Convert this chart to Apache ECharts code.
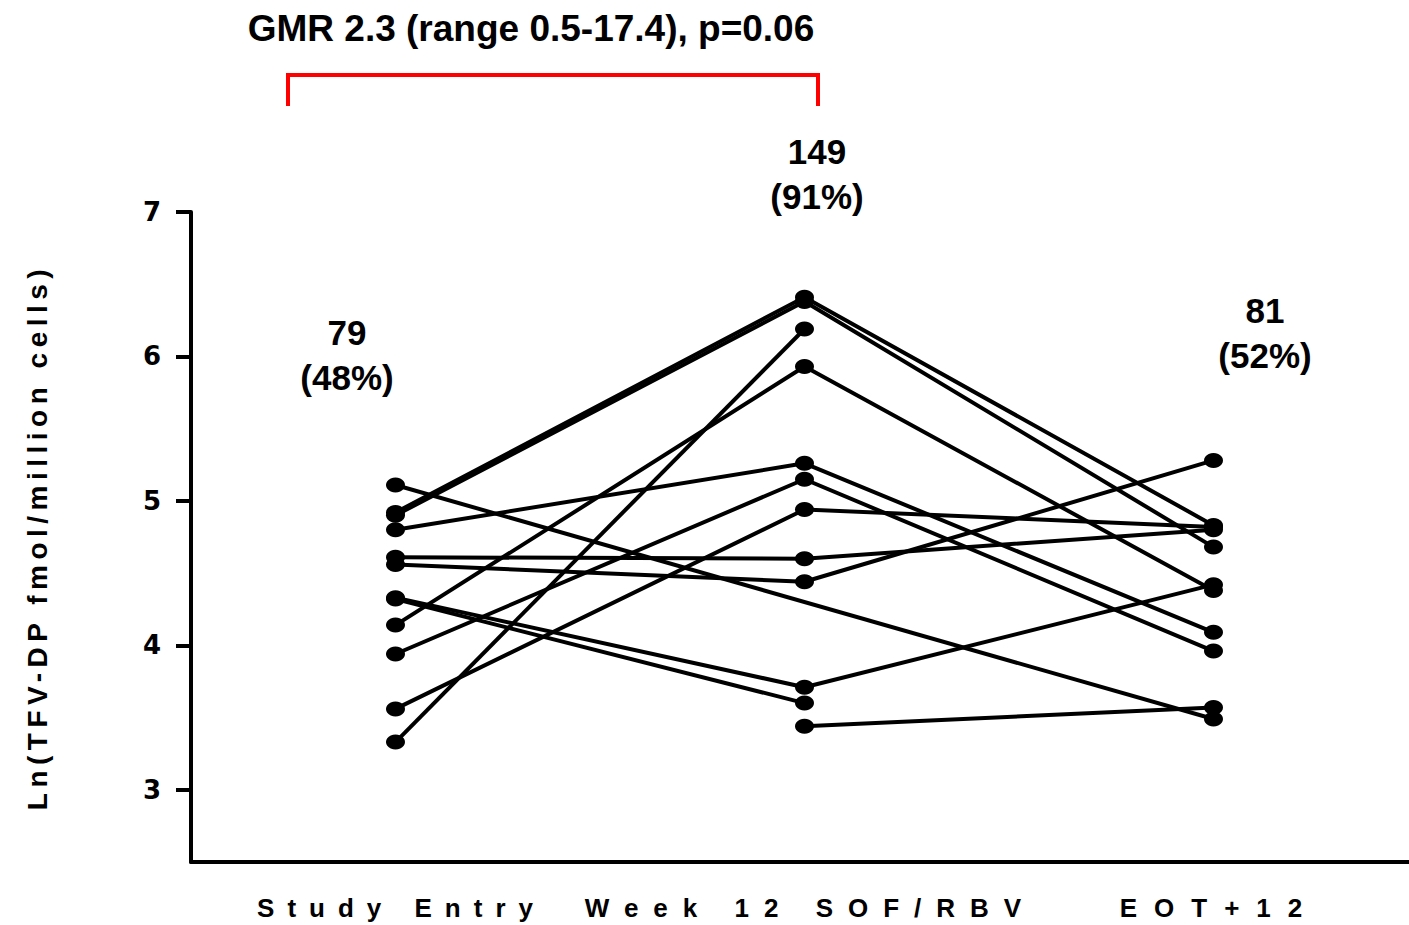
<!DOCTYPE html>
<html>
<head>
<meta charset="utf-8">
<script src="https://cdn.jsdelivr.net/npm/echarts@6/dist/echarts.min.js"></script>
<style>
  html, body { margin: 0; padding: 0; background: #fff; }
  #chart { width: 1409px; height: 925px; }
</style>
</head>
<body>
<div id="chart"></div>
<script>
// Time points on the x axis
const categories = ['Study Entry', 'Week 12 SOF/RBV', 'EOT+12'];

// Ln(TFV-DP) per participant at each time point (null = not measured)
const s01 = [4.92, 6.41, 4.83];
const s02 = [4.90, 6.38, 4.68];
const s03 = [3.33, 6.19, null];
const s04 = [4.14, 5.93, 4.38];
const s05 = [4.80, 5.26, 4.09];
const s06 = [3.94, 5.15, 3.96];
const s07 = [3.56, 4.94, 4.82];
const s08 = [4.61, 4.60, 4.80];
const s09 = [4.56, 4.44, 5.28];
const s10 = [4.33, 3.71, 4.42];
const s11 = [4.32, 3.60, null];
const s12 = [5.11, null, 3.49];
const s13 = [null, 3.44, 3.57];
const participants = [s01, s02, s03, s04, s05, s06, s07, s08, s09, s10, s11, s12, s13];

// Y axis ticks
const yTicks = [3, 4, 5, 6, 7];

// Geometric mean labels per time point
const gmLabels = ['79\n(48%)', '149\n(91%)', '81\n(52%)'];
const comparisonText = 'GMR 2.3 (range 0.5-17.4), p=0.06';

const BOLD = 'Liberation Sans, Arial, sans-serif';

const chart = echarts.init(document.getElementById('chart'), null, { renderer: 'svg' });

const series = participants.map(vals => ({
  type: 'line',
  data: vals,
  connectNulls: true,
  symbol: 'circle',
  symbolSize: [19, 15],
  showSymbol: true,
  lineStyle: { color: '#000', width: 4 },
  itemStyle: { color: '#000' },
  emphasis: { disabled: true },
  animation: false
}));

const labelText = (text, x, y) => ({
  type: 'text',
  x: x, y: y,
  style: {
    text: text,
    font: 'bold 35px ' + BOLD,
    fill: '#000',
    align: 'center',
    verticalAlign: 'middle',
    lineHeight: 45
  }
});

chart.setOption({
  animation: false,
  backgroundColor: '#fff',
  grid: { left: 191, top: 212, width: 1227, height: 650, containLabel: false, outerBoundsMode: 'none' },
  xAxis: {
    type: 'category',
    data: categories,
    boundaryGap: true,
    axisLine: { lineStyle: { color: '#000', width: 4 } },
    axisTick: { alignWithLabel: true, length: 13, lineStyle: { color: '#000', width: 3.5 } },
    axisLabel: {
      color: '#000', fontFamily: BOLD, fontWeight: 'bold', fontSize: 26, margin: 33,
      padding: [0, 0, 0, 12]
    },
    splitLine: { show: false }
  },
  yAxis: {
    type: 'value',
    min: 2.5,
    max: 7,
    interval: 0.5,
    name: 'Ln(TFV-DP fmol/million cells)',
    nameLocation: 'middle',
    nameRotate: 90,
    nameGap: 140,
    nameTextStyle: { color: '#000', fontFamily: BOLD, fontWeight: 'bold', fontSize: 28 },
    axisLine: { show: true, lineStyle: { color: '#000', width: 4 } },
    axisTick: { show: true, customValues: yTicks, length: 15, lineStyle: { color: '#000', width: 4 } },
    axisLabel: {
      color: '#000', fontFamily: 'DejaVu Sans', fontWeight: 'bold', fontSize: 26, margin: 30,
      formatter: v => (yTicks.indexOf(v) >= 0 ? String(v) : '')
    },
    splitLine: { show: false }
  },
  graphic: [
    {
      type: 'text', x: 531, y: 28,
      style: { text: comparisonText, font: 'bold 37px ' + BOLD, fill: '#000', align: 'center', verticalAlign: 'middle' }
    },
    {
      type: 'polyline',
      shape: { points: [[288, 106], [288, 75], [818, 75], [818, 106]] },
      style: { stroke: '#ff0000', lineWidth: 4, fill: null }
    },
    labelText(gmLabels[0], 347, 355),
    labelText(gmLabels[1], 817, 174),
    labelText(gmLabels[2], 1265, 333)
  ],
  series: series
});

// Wide letter spacing for axis titles and category labels
const spacing = {
  'Study Entry': 13,
  'Week 12 SOF/RBV': 15,
  'EOT+12': 17,
  'Ln(TFV-DP fmol/million cells)': 5.5
};
function applySpacing() {
  document.querySelectorAll('#chart text').forEach(t => {
    const s = spacing[t.textContent];
    if (s) t.style.letterSpacing = s + 'px';
  });
}
chart.on('finished', applySpacing);
setTimeout(applySpacing, 50);
</script>
</body>
</html>
